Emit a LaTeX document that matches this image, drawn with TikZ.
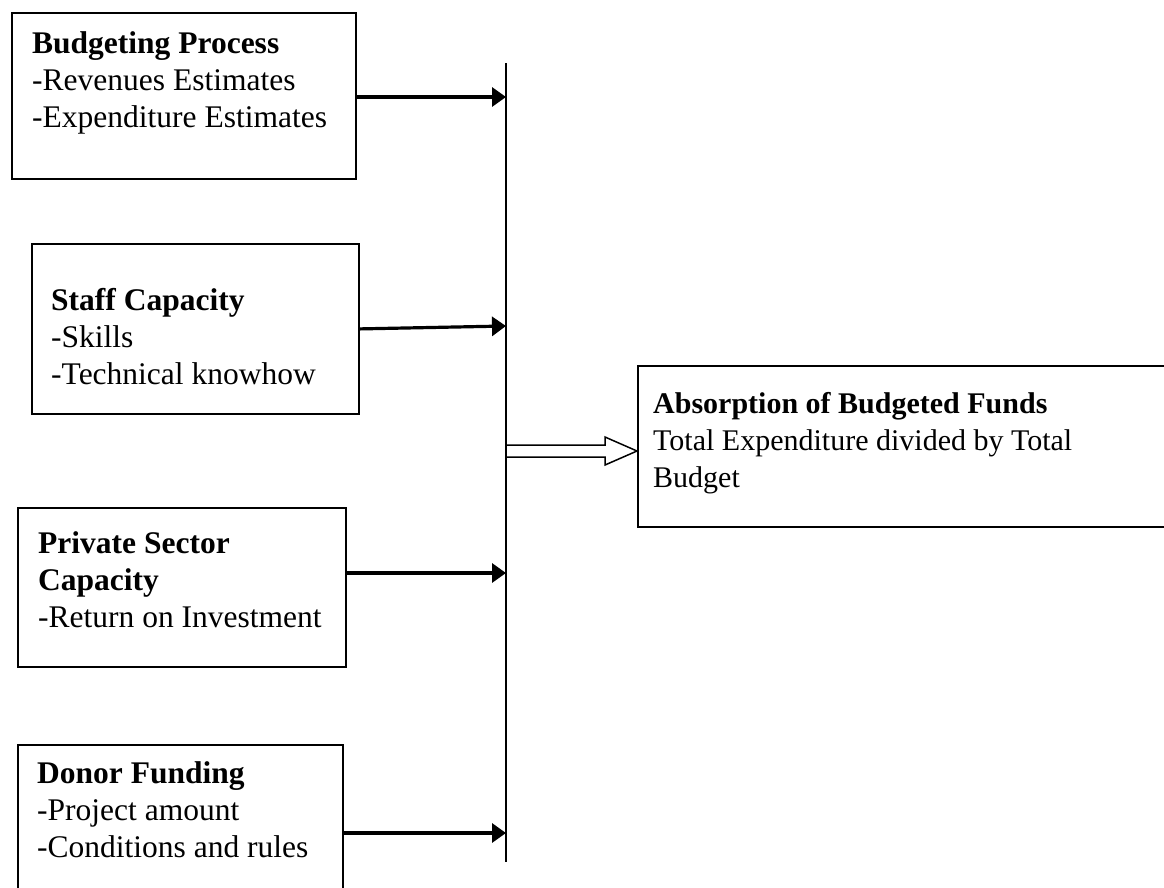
\documentclass[tikz,border=0pt]{standalone}
\usepackage{fontspec}
\setmainfont{Liberation Serif}
\usetikzlibrary{arrows.meta}
\newcommand{\boxlines}[1]{\begin{tabular}[t]{@{}l@{}}#1\end{tabular}}

\begin{document}
\begin{tikzpicture}[x=1pt,y=-1pt,>={Triangle[length=14pt,width=19pt]},
  box/.style={draw,line width=1.8pt,anchor=north west,inner sep=0pt},
  txt/.style={anchor=base west,inner sep=0pt,font=\fontsize{31.5}{37}\selectfont},
  feed/.style={->,line width=3.2pt}]
\useasboundingbox (0,0) rectangle (1164,887);
\node[box,minimum width=344,minimum height=166] (BP) at (11,12) {};
\node[txt] (BPt) at (32,53) {\boxlines{\textbf{Budgeting Process}\\-Revenues Estimates\\-Expenditure Estimates}};
\node[box,minimum width=327,minimum height=170] (SC) at (31,243) {};
\node[txt] (SCt) at (51,310) {\boxlines{\textbf{Staff Capacity}\\-Skills\\-Technical knowhow}};
\node[box,minimum width=328,minimum height=159] (PS) at (17,507) {};
\node[txt] (PSt) at (38,553) {\boxlines{\textbf{Private Sector}\\\textbf{Capacity}\\-Return on Investment}};
\node[box,minimum width=325,minimum height=160] (DF) at (17,744) {};
\node[txt] (DFt) at (37,783) {\boxlines{\textbf{Donor Funding}\\-Project amount\\-Conditions and rules}};
\node[box,minimum width=540,minimum height=161] (AB) at (637,365) {};
\node[txt,font=\fontsize{30}{37}\selectfont] (ABt) at (653,413)
  {\boxlines{\textbf{Absorption of Budgeted Funds}\\Total Expenditure divided by Total\\Budget}};
% collecting line
\coordinate (top) at (506,63);
\coordinate (bot) at (506,862);
\coordinate (j1) at (506,97);
\coordinate (j2) at (506,326);
\coordinate (j3) at (506,573);
\coordinate (j4) at (506,833);
\coordinate (j0) at (506,451);
\draw[line width=1.5pt] (top) -- (bot);
\draw[feed] (BP.east |- j1) -- (j1);
\draw[feed] (SC.east) -- (j2);
\draw[feed] (PS.east |- j3) -- (j3);
\draw[feed] (DF.east |- j4) -- (j4);
% hollow arrow
\draw[line width=1.5pt,fill=white] (j0) ++(0,-6) -- ++(99,0) -- ++(0,-8) -- (j0 -| AB.west)
  -- ++(-32,14) -- ++(0,-8) -- ++(-99,0) -- cycle;
\end{tikzpicture}
\end{document}
